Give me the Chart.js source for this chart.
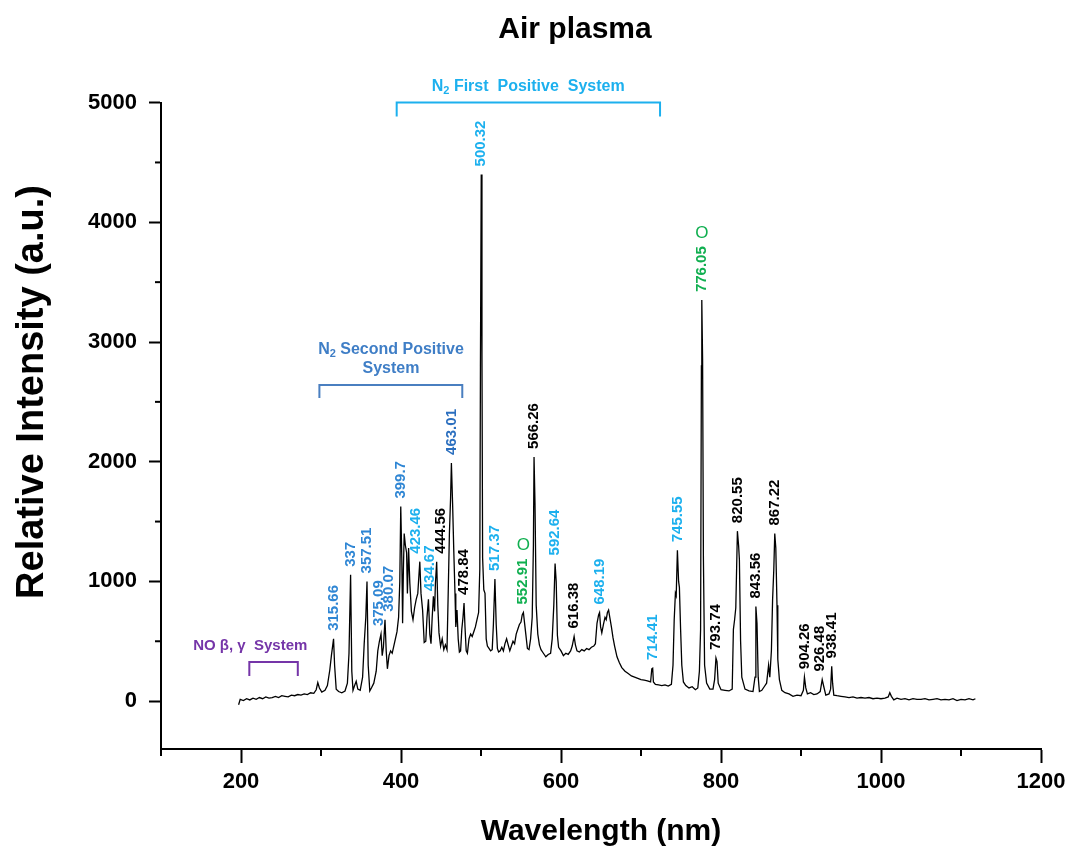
<!DOCTYPE html>
<html lang="en">
<head>
  <meta charset="utf-8">
  <title>Air plasma</title>
  <script src="https://cdn.jsdelivr.net/npm/chart.js@4.4.0/dist/chart.umd.min.js"></script>
  <style>
    body { margin: 0; background: #fff; }
    #wrap { width: 1074px; height: 852px; }
  </style>
</head>
<body>
<div id="wrap"><canvas id="myChart" width="1074" height="852"></canvas></div>
<script>
// spectrum: wavelength (nm) and relative intensity (a.u.)
var wavelength = [
  197, 199, 203, 207, 211, 215, 219, 223, 227, 231, 235, 239, 243, 247, 251, 255, 259, 263, 267, 271,
  275, 279, 283, 287, 291, 294, 296, 298, 301, 305, 308,
  311, 313, 315.7, 317, 319, 322, 326, 330, 333, 335, 337, 338.5, 340, 342, 344, 346, 349, 352, 354, 356,
  357.5, 359, 361, 363, 366, 369, 371, 373, 375, 376.5, 378, 380, 381.5, 383, 385, 387, 389, 391, 393, 395, 397,
  398.5, 399.7, 401, 402, 403, 404, 405.5, 407, 408, 409.5, 411, 413, 415, 417, 419, 421, 423.5, 425, 427, 429,
  431, 432.5, 434.3, 436, 437.5, 439, 440.5, 442, 443, 444.6, 446, 447.5, 449.5, 451.5, 453.5, 455.5, 457.5, 459, 460.5, 462,
  463, 464.5, 466, 467.5, 468.5, 470, 471.5, 473, 474.5, 476, 477.5, 478.8, 480, 481.5, 483, 485, 487, 489, 491, 493, 495, 497,
  498.5, 499.3, 500.3, 501.2, 502, 503.5, 505, 506.5, 508, 510, 512, 514, 515.5, 517.4, 519, 520.5, 522, 524, 526, 528,
  530, 532, 534, 536, 538, 540, 542, 544, 546, 548, 550, 551.5, 553, 554.5, 556, 558, 560, 562, 564, 565.5,
  566.3, 567.5, 569, 571, 573, 575, 578, 581, 584, 587, 589, 591, 592.6, 594, 595.5, 597,
  600, 603, 606, 609, 612, 614, 616.4, 618, 620, 623, 626, 629, 632, 635, 638, 641, 643, 645, 647, 648.2,
  649.5, 651, 653, 655, 656.5, 658, 659.5, 661, 663, 665, 667, 670, 673, 676, 680, 684, 688, 692, 696, 700,
  704, 708, 712, 713.5, 714.6, 715.5, 718, 722, 726, 730, 734, 738,
  740, 741.5, 743, 744, 745.5, 747, 748, 749.5, 751, 753, 756, 760, 764, 768, 771, 773, 774.5, 775.5, 776, 777,
  778, 779.5, 782, 786, 790, 792, 793.7, 795, 796.5, 800, 805, 810, 814, 815.5, 817, 818.5, 820.5, 822, 823, 824.5,
  826, 830, 835, 840, 842.5, 843.6, 845, 846.5, 848, 851, 854, 857, 859.5, 861, 863, 864.5, 866, 867.2, 868.5, 870,
  871, 873, 876,
  880, 885, 890, 895, 900, 903, 904.3, 906, 908, 912, 916, 920, 924, 926.5, 928.5, 931, 935, 937, 938.4, 939.5,
  941, 945, 950, 955, 960, 965, 970, 975, 980, 985, 990, 995, 1000, 1005, 1009, 1011, 1013, 1016, 1020, 1025,
  1030, 1035, 1040, 1045, 1050, 1055, 1060, 1065, 1070, 1075, 1080, 1085, 1090, 1095, 1100, 1105, 1110, 1115, 1118
];
var intensity = [
  -30, 15, 5, 20, 10, 25, 15, 30, 20, 35, 25, 30, 40, 30, 45, 40, 35, 50, 45, 55,
  50, 60, 55, 70, 65, 95, 155, 110, 75, 90, 130,
  260, 380, 520, 300, 100, 80, 70, 85, 150, 400, 1055, 250, 90, 130, 165, 100, 90, 200, 480, 700,
  1000, 300, 85, 110, 150, 250, 420, 500, 560, 380, 450, 680, 420, 270, 380, 420, 400, 460, 520, 580, 700,
  1000, 1625, 1200, 650, 1100, 1400, 1300, 1240, 900, 1280, 990, 750, 680, 780, 850, 900, 1165, 900, 760, 490,
  500, 700, 850, 560, 480, 700, 875, 750, 980, 1165, 800, 570, 460, 520, 430, 470, 430, 900, 1400, 1700,
  1990, 1650, 1250, 900, 620, 760, 520, 410, 420, 600, 700, 820, 620, 420, 400, 520, 560, 540, 580, 620, 680, 740,
  1100, 2800, 4400, 2900, 1200, 930, 900, 520, 460, 440, 420, 430, 640, 1020, 640, 440, 410, 420, 450, 420,
  480, 520, 470, 420, 460, 500, 480, 560, 600, 640, 660, 720, 740, 650, 560, 440, 430, 520, 700, 1300,
  2040, 1650, 800, 560, 470, 430, 400, 370, 390, 400, 520, 800, 1150, 1000, 550, 450,
  420, 380, 400, 390, 420, 460, 540, 470, 420, 410, 430, 420, 440, 430, 450, 460, 480, 650, 720, 740,
  620, 570, 640, 700, 680, 740, 760, 700, 620, 530, 460, 370, 320, 280, 250, 230, 210, 200, 190, 180,
  175, 170, 160, 270, 275, 160, 140, 135, 130, 135, 125, 140,
  300, 680, 900, 880, 1260, 1000, 950, 600, 300, 160, 130, 110, 120, 95, 110, 250, 600, 2800, 3350, 2850,
  1200, 300, 150, 100, 100, 180, 360, 330, 150, 95, 90, 85, 100, 600, 680, 780, 1420, 1300, 1180, 500,
  200, 100, 85, 80, 200, 790, 650, 200, 80, 90, 120, 150, 300, 200, 420, 850, 1100, 1400, 1280, 800,
  350, 180, 90,
  70, 60, 40, 50, 45, 90, 200, 110, 60, 70, 55, 60, 80, 180, 120, 50, 60, 100, 290, 150,
  50, 45, 40, 35, 30, 35, 25, 30, 25, 30, 20, 25, 20, 25, 35, 70, 40, 10, 25, 15,
  20, 10, 20, 15, 15, 20, 10, 15, 20, 10, 15, 10, 20, 5, 15, 10, 20, 10, 20
];

var xTicks = [200, 400, 600, 800, 1000, 1200];
var yTicks = [0, 1000, 2000, 3000, 4000, 5000];
var xMinor = [100, 300, 500, 700, 900, 1100];
var yMinor = [500, 1500, 2500, 3500, 4500];

// peak labels, grouped by colour
var spsPeaks = ["315.66", "337", "357.51", "375.09", "380.07", "399.7", "463.01"];
var fpsPeaks = ["423.46", "434.67", "500.32", "517.37", "592.64", "648.19", "714.41", "745.55"];
var otherPeaks = ["444.56", "478.84", "566.26", "616.38", "793.74", "820.55", "843.56", "867.22", "904.26", "926.48", "938.41"];
var oxygenPeaks = ["552.91", "776.05"];

var FONT = '"Liberation Sans", Arial, Helvetica, sans-serif';
Chart.defaults.font.family = FONT;

// labels that sit a little beside their line
var labelAt = { "375.09": 371.7, "380.07": 385, "434.67": 436, "444.56": 449.6, "423.46": 418, "926.48": 923.5 };

function peakTop(w) {
  var m = -Infinity;
  for (var i = 0; i < wavelength.length; i++) {
    if (Math.abs(wavelength[i] - w) <= 3 && intensity[i] > m) m = intensity[i];
  }
  return m;
}

function richText(ctx, parts, cx, cy, size, color) {
  // parts: [text, isSubscript]
  var total = 0;
  parts.forEach(function(p) {
    ctx.font = 'bold ' + (p[1] ? Math.round(size * 0.7) : size) + 'px ' + FONT;
    total += ctx.measureText(p[0]).width;
  });
  var x = cx - total / 2;
  ctx.fillStyle = color;
  ctx.textAlign = 'left';
  ctx.textBaseline = 'middle';
  parts.forEach(function(p) {
    ctx.font = 'bold ' + (p[1] ? Math.round(size * 0.7) : size) + 'px ' + FONT;
    ctx.fillText(p[0], x, p[1] ? cy + size * 0.3 : cy);
    x += ctx.measureText(p[0]).width;
  });
}

function bracket(ctx, x1, x2, y, leg, color) {
  ctx.save();
  ctx.strokeStyle = color;
  ctx.lineWidth = 2;
  ctx.beginPath();
  ctx.moveTo(x1, y + leg);
  ctx.lineTo(x1, y);
  ctx.lineTo(x2, y);
  ctx.lineTo(x2, y + leg);
  ctx.stroke();
  ctx.restore();
}

var annotations = {
  id: 'annotations',
  afterDraw: function(chart) {
    var ctx = chart.ctx;
    var xs = chart.scales.x, ys = chart.scales.y;
    var area = chart.chartArea;

    // title and y-axis title, placed as in the figure (a bit off-centre)
    ctx.save();
    ctx.font = 'bold 30px ' + FONT;
    ctx.fillStyle = '#000';
    ctx.textAlign = 'center';
    ctx.textBaseline = 'middle';
    ctx.fillText('Air plasma', 575, 30);
    ctx.translate(33, 392);
    ctx.rotate(-Math.PI / 2);
    ctx.font = 'bold 38px ' + FONT;
    ctx.fillText('Relative Intensity (a.u.)', 0, 0);
    ctx.restore();

    // minor ticks
    ctx.save();
    ctx.strokeStyle = '#000';
    ctx.lineWidth = 2;
    xMinor.forEach(function(v) {
      var px = xs.getPixelForValue(v);
      ctx.beginPath(); ctx.moveTo(px, area.bottom); ctx.lineTo(px, area.bottom + 7); ctx.stroke();
    });
    yMinor.forEach(function(v) {
      var py = ys.getPixelForValue(v);
      ctx.beginPath(); ctx.moveTo(area.left - 6, py); ctx.lineTo(area.left, py); ctx.stroke();
    });
    ctx.restore();

    function label(text, color, withO) {
      var w = parseFloat(text);
      var px = xs.getPixelForValue(labelAt[text] || w);
      var py = ys.getPixelForValue(peakTop(w)) - 8;
      ctx.save();
      ctx.translate(px, py);
      ctx.rotate(-Math.PI / 2);
      ctx.font = 'bold 15px ' + FONT;
      ctx.fillStyle = color;
      ctx.textAlign = 'left';
      ctx.textBaseline = 'middle';
      ctx.fillText(text, 0, 0);
      var tw = ctx.measureText(text).width;
      ctx.restore();
      if (withO) {
        ctx.save();
        ctx.font = '17px ' + FONT;
        ctx.fillStyle = color;
        ctx.textAlign = 'center';
        ctx.textBaseline = 'middle';
        ctx.fillText('O', px, py - tw - 13);
        ctx.restore();
      }
    }
    spsPeaks.forEach(function(t) { label(t, t === "463.01" ? '#2B6FBF' : '#2F86D4'); });
    fpsPeaks.forEach(function(t) { label(t, '#1CB0EE'); });
    otherPeaks.forEach(function(t) { label(t, '#000000'); });
    oxygenPeaks.forEach(function(t) { label(t, '#10AF50', true); });

    // band-system brackets
    ctx.save();
    var y5000 = ys.getPixelForValue(5000);
    bracket(ctx, xs.getPixelForValue(394.6), xs.getPixelForValue(723.8), y5000, 14, '#1CB0EE');
    richText(ctx, [['N', false], ['2', true], [' First  Positive  System', false]],
      xs.getPixelForValue(559), y5000 - 16, 16, '#1CB0EE');

    var ySps = ys.getPixelForValue(2640);
    bracket(ctx, xs.getPixelForValue(298), xs.getPixelForValue(476.6), ySps, 13, '#4A7FC0');
    richText(ctx, [['N', false], ['2', true], [' Second Positive', false]],
      xs.getPixelForValue(387.5), ySps - 36, 16, '#3F7EC6');
    richText(ctx, [['System', false]], xs.getPixelForValue(387.5), ySps - 17, 16, '#3F7EC6');

    var yNo = ys.getPixelForValue(326);
    bracket(ctx, xs.getPixelForValue(210.4), xs.getPixelForValue(271), yNo, 14, '#7535A8');
    richText(ctx, [['NO \u03b2, \u03b3  System', false]], xs.getPixelForValue(211.6), yNo - 16, 15, '#7535A8');
    ctx.restore();
  }
};

var points = wavelength.map(function(w, i) { return { x: w, y: intensity[i] }; });

new Chart("myChart", {
  type: "line",
  data: {
    datasets: [{
      data: points,
      borderColor: "#000",
      borderWidth: 1.3,
      pointRadius: 0,
      tension: 0,
      fill: false
    }]
  },
  options: {
    responsive: false,
    animation: false,
    layout: { padding: { left: 0, right: 33, top: 102.6, bottom: 0 } },
    plugins: {
      legend: { display: false },
      tooltip: { enabled: false },
      title: { display: false }
    },
    scales: {
      x: {
        type: 'linear',
        min: 100,
        max: 1200,
        afterBuildTicks: function(s) { s.ticks = xTicks.map(function(v) { return { value: v }; }); },
        afterFit: function(s) { s.height = 103; },
        grid: { drawOnChartArea: false, drawTicks: true, tickLength: 14, tickWidth: 2, tickColor: '#000' },
        border: { display: true, color: '#000', width: 2 },
        ticks: {
          color: '#000', font: { size: 22, weight: 'bold' }, padding: 6, maxRotation: 0, autoSkip: false,
          callback: function(v) { return String(v); }
        },
        title: { display: true, text: 'Wavelength (nm)', color: '#000', font: { size: 30, weight: 'bold' }, padding: { top: 0, bottom: 2 } }
      },
      y: {
        min: -400,
        max: 5000,
        afterBuildTicks: function(s) { s.ticks = yTicks.map(function(v) { return { value: v }; }); },
        afterFit: function(s) { s.width = 161; },
        grid: { drawOnChartArea: false, drawTicks: true, tickLength: 12, tickWidth: 2, tickColor: '#000' },
        border: { display: true, color: '#000', width: 2 },
        ticks: {
          color: '#000', font: { size: 22, weight: 'bold' }, padding: 12,
          callback: function(v) { return String(v); }
        },
        title: { display: false }
      }
    }
  },
  plugins: [annotations]
});
</script>
</body>
</html>
